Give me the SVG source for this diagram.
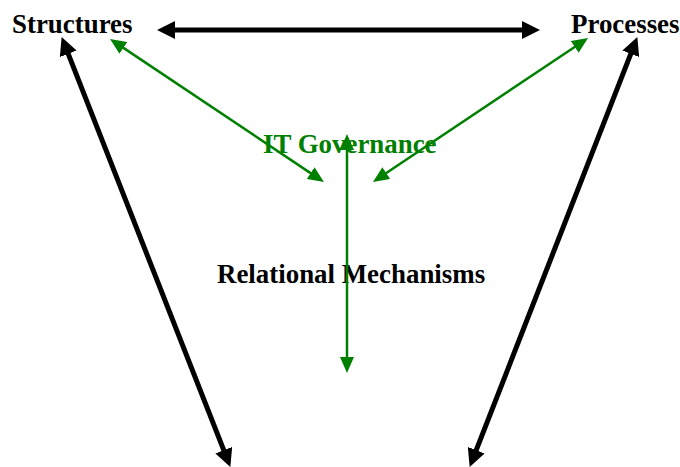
<svg xmlns="http://www.w3.org/2000/svg" width="680" height="467" viewBox="0 0 680 467">
<style>
.lbl{font-family:"Liberation Serif","Times New Roman",serif;font-weight:bold;font-size:26.9px;fill:#000}
.g{fill:#008000}
.blk{stroke:#000;stroke-width:5;fill:none}
.grn{stroke:#008000;stroke-width:2.5;fill:none}
</style>
<defs>
<marker id="bh" markerUnits="userSpaceOnUse" viewBox="0 0 18 18" markerWidth="18" markerHeight="18" refX="8" refY="9" orient="auto-start-reverse"><path d="M0,0 L18,9 L0,18 z" fill="#000"/></marker>
<marker id="gh" markerUnits="userSpaceOnUse" viewBox="0 0 16 14" markerWidth="16" markerHeight="14" refX="8" refY="7" orient="auto-start-reverse"><path d="M0,0 L16,7 L0,14 z" fill="#008000"/></marker>
</defs>
<rect width="680" height="467" fill="#fff"/>
<g id="structures"><text class="lbl" x="12" y="33">Structures</text></g>
<g id="processes"><text class="lbl" x="571" y="33">Processes</text></g>
<g id="it-governance"><text class="lbl g" x="263" y="153">IT Governance</text></g>
<g id="relational-mechanisms"><text class="lbl" x="217" y="283">Relational Mechanisms</text></g>
<g id="connectors">
<path class="blk" d="M167,30 L530,30" marker-start="url(#bh)" marker-end="url(#bh)"/>
<path class="blk" d="M65.3,46.4 L226.7,457.6" marker-start="url(#bh)" marker-end="url(#bh)"/>
<path class="blk" d="M633.7,46.4 L473.3,457.6" marker-start="url(#bh)" marker-end="url(#bh)"/>
<path class="grn" d="M116.7,43.4 L317.3,177.6" marker-start="url(#gh)" marker-end="url(#gh)"/>
<path class="grn" d="M581.4,42.5 L379.6,177.5" marker-start="url(#gh)" marker-end="url(#gh)"/>
<path class="grn" d="M347,142 L347,365" marker-start="url(#gh)" marker-end="url(#gh)"/>
</g>
</svg>
